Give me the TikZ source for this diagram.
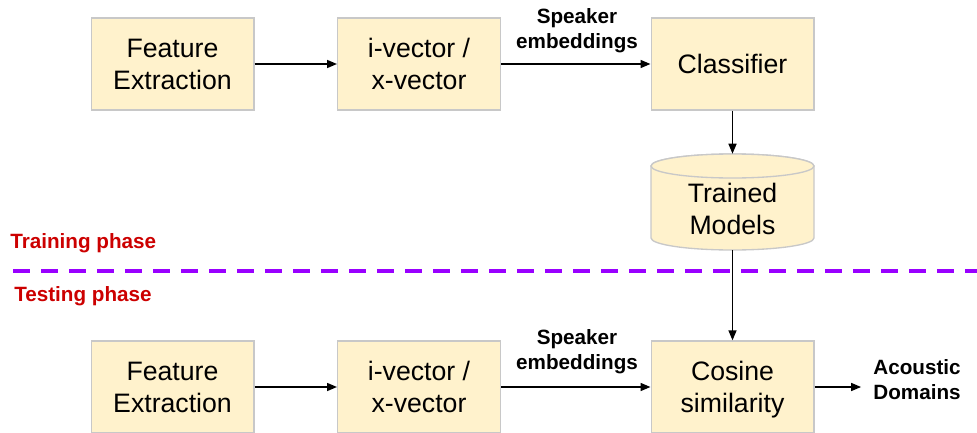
\documentclass[tikz,border=0pt]{standalone}
\usepackage{fontspec}
\setmainfont{Liberation Sans}
\usetikzlibrary{arrows.meta}
\definecolor{boxfill}{HTML}{FFF2CC}
\definecolor{boxline}{HTML}{C8C8C8}
\definecolor{phasered}{HTML}{CC0000}
\definecolor{splitline}{HTML}{9900FF}
\begin{document}
\begin{tikzpicture}[x=0.75pt,y=-0.75pt,
  stage/.style={draw=boxline,fill=boxfill,line width=1pt,minimum width=122pt,
    minimum height=69pt,align=center,font=\fontsize{20}{24}\selectfont,inner sep=0pt,
    text depth=0pt},
  flow/.style={line width=1.1pt,-{Triangle[length=7.5pt,width=6pt]}},
  tag/.style={align=center,font=\fontsize{15.5}{18.75}\selectfont\bfseries,inner sep=0pt},
  phase/.style={anchor=west,text=phasered,font=\fontsize{15.5}{18.75}\selectfont\bfseries,inner sep=0pt}]
\useasboundingbox (0,0) rectangle (977,432);

% training row
\node[stage] (fe1) at (172.5,64) {Feature\\Extraction};
\node[stage] (iv1) at (419,64) {i-vector /\\x-vector};
\node[stage] (cls) at (732.5,64) {Classifier};
\node[tag] (se1) at (577,31) {Speaker\\embeddings};

% trained models store (cylinder)
\draw[draw=boxline,fill=boxfill,line width=1pt]
  (651,166) -- (651,238) arc[start angle=180,end angle=360,x radius=61.125pt,y radius=9pt]
  -- (814,166) arc[start angle=0,end angle=180,x radius=61.125pt,y radius=9pt] -- cycle;
\draw[draw=boxline,fill=boxfill,line width=1pt] (732.5,166) ellipse[x radius=61.125pt,y radius=9pt];
\node[minimum width=122pt,minimum height=72pt,inner sep=0pt] (models) at (732.5,202) {};
\node[align=center,font=\fontsize{20}{24}\selectfont,inner sep=0pt,text depth=0pt] (modeltxt) at (732.5,209) {Trained\\Models};

% phase separator
\node[phase] (train) at (10,243) {Training phase};
\node[phase] (test) at (14,296) {Testing phase};
\coordinate (sepL) at (13,271);
\coordinate (sepR) at (977,271);
\draw[splitline,line width=3pt,dash pattern=on 12.75pt off 8.25pt] (sepL) -- (sepR);

% testing row
\node[stage] (fe2) at (172.5,387) {Feature\\Extraction};
\node[stage] (iv2) at (419,387) {i-vector /\\x-vector};
\node[stage] (cos) at (732.5,387) {Cosine\\similarity};
\node[tag] (se2) at (577,352) {Speaker\\embeddings};
\node[tag] (dom) at (917,380) {Acoustic\\Domains};

% connectors
\draw[flow] (fe1) -- (iv1);
\draw[flow] (iv1) -- (cls);
\draw[flow] (cls) -- (models.north);
\draw[flow] (models.south) -- (cos);
\draw[flow] (fe2) -- (iv2);
\draw[flow] (iv2) -- (cos);
\draw[flow,shorten >=9pt] (cos.east) -- (cos.east -| dom.west);
\end{tikzpicture}
\end{document}
